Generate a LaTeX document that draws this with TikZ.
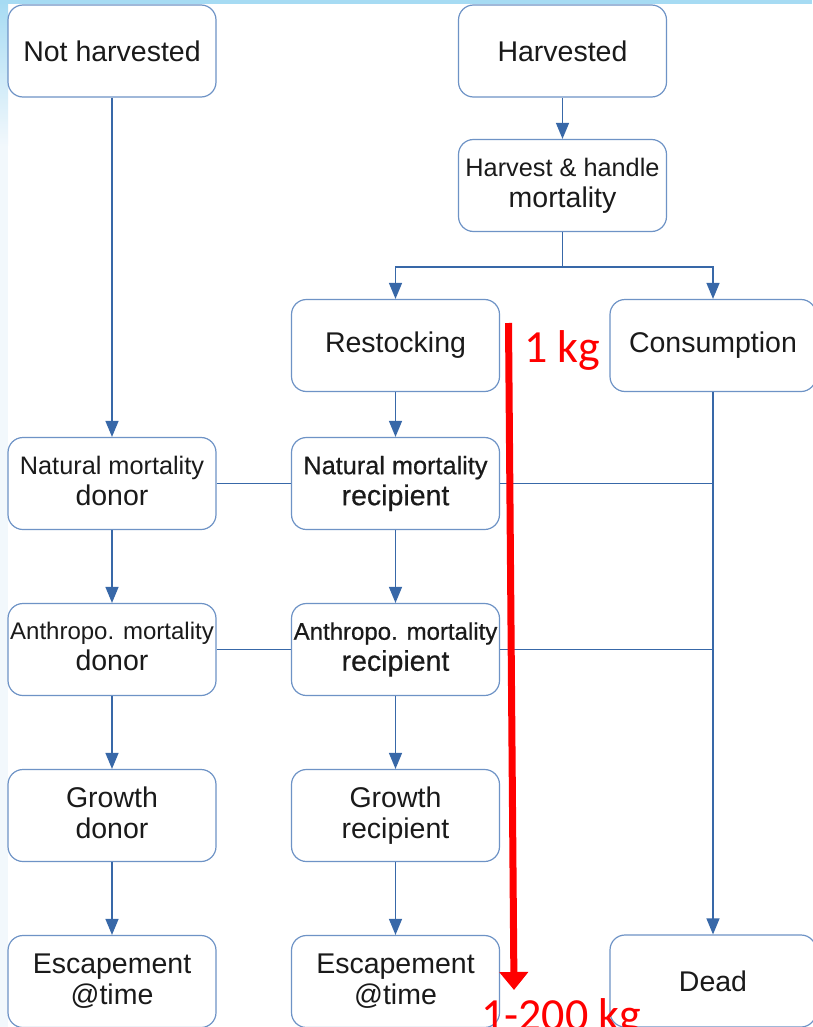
\documentclass[tikz,border=0pt]{standalone}
\usepackage{fontspec}
\setmainfont{Liberation Sans}
\newfontfamily\heavyfont[FakeBold=0.6]{Liberation Sans}
\newfontfamily\notefont{Carlito}
\usetikzlibrary{arrows.meta}
\definecolor{linkblue}{HTML}{3868A8}
\definecolor{edgeblue}{HTML}{6E93C6}
\definecolor{inkdark}{HTML}{1A1A1A}
\definecolor{bandblue}{HTML}{A6DBF3}
\definecolor{paleblue}{HTML}{F2F8FC}
\newcommand{\bigtxt}{\fontsize{28.5}{31}\selectfont}
\newcommand{\smalltxt}{\fontsize{25.3}{31}\selectfont}
\newcommand{\tinytxt}{\fontsize{24}{31}\selectfont}
\tikzset{
  box/.style={draw=edgeblue, line width=1.2pt, rounded corners=15pt, fill=white,
    minimum width=208pt, minimum height=92pt, inner sep=0pt, align=center,
    text=inkdark, font=\bigtxt},
  flow/.style={draw=linkblue, line width=1.3pt, -{Triangle[width=13pt,length=16pt]}},
  link/.style={draw=linkblue, line width=1.3pt},
  note/.style={text=red, font=\notefont\fontsize{46}{50}\selectfont, inner sep=0pt},
  bigarrow/.style={draw=red, line width=7pt, -{Triangle[width=28pt,length=18pt]}}
}
\begin{document}
\begin{tikzpicture}[x=1pt,y=-1pt]
  \useasboundingbox (0,0) rectangle (812,1027);
  % page backdrop bands
  \fill[white] (0,0) rectangle (812,1027);
  \fill[paleblue] (0,0) rectangle (8,1027);
  \shade[top color=bandblue, bottom color=paleblue] (0,0) rectangle (8,146);
  \fill[bandblue] (0,0) rectangle (812,4);

  % top row
  \node[box] (nh) at (112,51) {Not harvested};
  \node[box] (hv) at (562.5,51) {Harvested};
  \node[box] (hh) at (562.5,185.5) {{\smalltxt Harvest \& handle}\\mortality};

  % second row
  \node[box] (rs) at (395.5,345.5) {Restocking};
  \node[box, minimum width=206pt] (cs) at (713,345.5) {Consumption};

  % mortality rows
  \node[box] (nd) at (112,483.5) {{\smalltxt Natural mortality}\\donor\vphantom{p}};
  \node[box, font=\heavyfont\bigtxt] (rn) at (395.5,483.5) {{\smalltxt Natural mortality}\\recipient};
  \node[box] (ad) at (112,649.5) {{\tinytxt Anthropo. mortality}\\donor\vphantom{p}};
  \node[box, font=\heavyfont\bigtxt] (ar) at (395.5,649.5) {{\tinytxt Anthropo. mortality}\\recipient};

  % growth row
  \node[box] (gd) at (112,815.5) {Growth\\donor\vphantom{p}};
  \node[box] (gr) at (395.5,815.5) {Growth\\recipient};

  % bottom row
  \node[box] (ed) at (112,981.5) {Escapement\\@time};
  \node[box] (er) at (395.5,981.5) {Escapement\\@time};
  \node[box, minimum width=206pt] (dd) at (713,981) {Dead};

  % connectors
  \draw[flow] (nh) -- (nd);
  \draw[flow] (hv) -- (hh);
  \coordinate (split) at ([yshift=-35pt]hh.south);
  \draw[link] (hh.south) -- (split);
  \draw[flow] (split) -| (rs.north);
  \draw[flow] (split) -| (cs.north);
  \draw[flow] (rs) -- (rn);
  \draw[flow] (cs) -- (dd);

  \draw[link] (nd.east) -- (rn.west);
  \draw[link] (rn.east) -- (rn.east -| cs.south);
  \draw[link] (ad.east) -- (ar.west);
  \draw[link] (ar.east) -- (ar.east -| cs.south);

  \draw[flow] (nd) -- (ad);
  \draw[flow] (ad) -- (gd);
  \draw[flow] (gd) -- (ed);
  \draw[flow] (rn) -- (ar);
  \draw[flow] (ar) -- (gr);
  \draw[flow] (gr) -- (er);

  % mass annotation
  \coordinate (massTop) at (508.5,323);
  \coordinate (massEnd) at (514,990);
  \draw[bigarrow] (massTop) -- (massEnd);
  \node[note, anchor=base west] (kgA) at (524,362) {1 kg};
  \node[note, anchor=base west] (kgB) at (481,1030) {1-200 kg};
\end{tikzpicture}
\end{document}
